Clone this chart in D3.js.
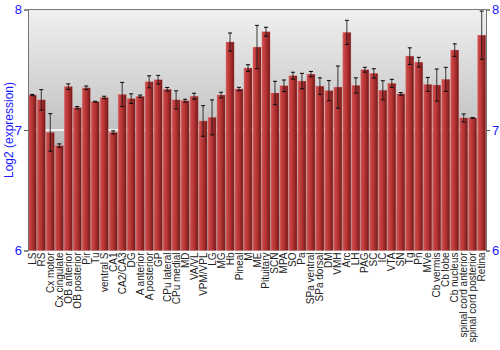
<!DOCTYPE html>
<html>
<head>
<meta charset="utf-8">
<script src="https://cdn.jsdelivr.net/npm/d3@7"></script>
<style>
  html, body { margin: 0; padding: 0; background: #fff; }
  svg { display: block; }
</style>
</head>
<body>
<svg id="chart" width="500" height="350"></svg>
<script>
const categories = ["LS","RS","Cx motor","Cx cingulate","OB anterior","OB posterior","Pir","Tu","ventral S","CA1","CA2/CA3","DG","A anterior","A posterior","GP","CPu lateral","CPu medial","MD","VA/VL","VPM/VPL","LG","MG","Hb","Pineal","M","ME","Pituitary","SCN","MPA","SO","Pa","SPa ventral","SPa dorsal","DM","VMH","Arc","LH","PAG","SC","IC","VTA","SN","Tg","Pn","MVe","Cb vermis","Cb lobe","Cb nucleus","spinal cord anterior","spinal cord posterior","Retina"];
const values = [7.29,7.25,6.98,6.87,7.36,7.185,7.35,7.235,7.27,6.98,7.295,7.26,7.28,7.40,7.417,7.338,7.25,7.243,7.28,7.075,7.105,7.29,7.73,7.34,7.514,7.688,7.815,7.307,7.367,7.45,7.406,7.464,7.364,7.326,7.356,7.81,7.37,7.5,7.47,7.33,7.387,7.30,7.613,7.563,7.378,7.373,7.42,7.663,7.10,7.10,7.787];
const errors = [0.005,0.085,0.156,0.015,0.023,0.01,0.015,0.003,0.01,0.013,0.1,0.04,0.01,0.05,0.036,0.015,0.075,0.012,0.025,0.127,0.145,0.023,0.075,0.014,0.028,0.18,0.037,0.097,0.048,0.029,0.064,0.022,0.069,0.084,0.175,0.1,0.063,0.02,0.039,0.079,0.033,0.011,0.069,0.04,0.058,0.133,0.1,0.052,0.033,0.003,0.2];
const yTicks = [6,7,8];
const yTitle = "Log2 (expression)";

const svg = d3.select("#chart");
const L = 28, R = 486, T = 9.5, B = 250.5;

const x = d3.scaleBand().domain(categories).range([L, R]).paddingInner(0.1).paddingOuter(0.03);
const y = d3.scaleLinear().domain([6, 8]).range([B, T]);

const defs = svg.append("defs");
const bg = defs.append("linearGradient").attr("id","bg").attr("x1",0).attr("y1",0).attr("x2",0).attr("y2",1);
bg.append("stop").attr("offset","0%").attr("stop-color","#f0f0f0");
bg.append("stop").attr("offset","50%").attr("stop-color","#c2c2c2");
bg.append("stop").attr("offset","100%").attr("stop-color","#9a9a9a");

const bg2 = defs.append("linearGradient").attr("id","bar").attr("x1",0).attr("y1",0).attr("x2",1).attr("y2",0);
bg2.append("stop").attr("offset","0%").attr("stop-color","#d35a5a");
bg2.append("stop").attr("offset","15%").attr("stop-color","#c94444");
bg2.append("stop").attr("offset","45%").attr("stop-color","#b93636");
bg2.append("stop").attr("offset","100%").attr("stop-color","#741818");

svg.append("rect").attr("x", L).attr("y", T).attr("width", R - L).attr("height", B - T).attr("fill", "url(#bg)");

// grid at 7
svg.append("line").attr("x1", L).attr("x2", R).attr("y1", y(7)).attr("y2", y(7))
  .attr("stroke", "#ffffff").attr("stroke-width", 2).attr("opacity", 0.8);

// bars
svg.append("g").selectAll("rect").data(categories).join("rect")
  .attr("x", d => x(d))
  .attr("width", x.bandwidth())
  .attr("y", (d, i) => y(values[i]))
  .attr("height", (d, i) => y(6) - y(values[i]))
  .attr("fill", "url(#bar)")
  .attr("stroke", "#d67070").attr("stroke-width", 0.5).attr("stroke-opacity", 0.6);

// error bars
const eb = svg.append("g").attr("stroke", "#111").attr("stroke-width", 1.1);
categories.forEach((c, i) => {
  const cx = x(c) + x.bandwidth() / 2;
  const y1 = y(values[i] + errors[i]), y2 = y(values[i] - errors[i]);
  eb.append("line").attr("x1", cx).attr("x2", cx).attr("y1", y1).attr("y2", y2).attr("stroke-opacity", 0.75);
  eb.append("line").attr("x1", cx - 2).attr("x2", cx + 2).attr("y1", y1).attr("y2", y1);
  eb.append("line").attr("x1", cx - 2).attr("x2", cx + 2).attr("y1", y2).attr("y2", y2);
});

// frame lines
svg.append("line").attr("x1", L).attr("x2", R).attr("y1", T).attr("y2", T).attr("stroke", "#777").attr("stroke-width", 1);

// axes
const leftAxis = d3.axisLeft(y).tickValues(yTicks).tickFormat(d3.format("d")).tickSize(4).tickPadding(2);
const gl = svg.append("g").attr("transform", `translate(${L},0)`).call(leftAxis);
const rightAxis = d3.axisRight(y).tickValues(yTicks).tickFormat(d3.format("d")).tickSize(4).tickPadding(2);
const gr = svg.append("g").attr("transform", `translate(${R},0)`).call(rightAxis);
[gl, gr].forEach(g => {
  g.select(".domain").attr("stroke", "#777");
  g.selectAll(".tick line").attr("stroke", "#555");
  g.selectAll(".tick text").attr("fill", "#1a1aff").attr("font-family", "Liberation Sans, Arial, sans-serif").attr("font-size", 13);
});

// category labels
svg.append("g").selectAll("text").data(categories).join("text")
  .attr("transform", d => `translate(${x(d) + x.bandwidth() / 2 + 3.5},${B + 2}) rotate(-90)`)
  .attr("text-anchor", "end")
  .attr("font-family", "Liberation Sans, Arial, sans-serif")
  .attr("font-size", 10)
  .attr("fill", "#222")
  .text(d => d);

// y title
svg.append("text")
  .attr("transform", `translate(13,${(T + B) / 2}) rotate(-90)`)
  .attr("text-anchor", "middle")
  .attr("font-family", "Liberation Sans, Arial, sans-serif")
  .attr("font-size", 12)
  .attr("fill", "#1a1aff")
  .text(yTitle);
</script>
</body>
</html>
